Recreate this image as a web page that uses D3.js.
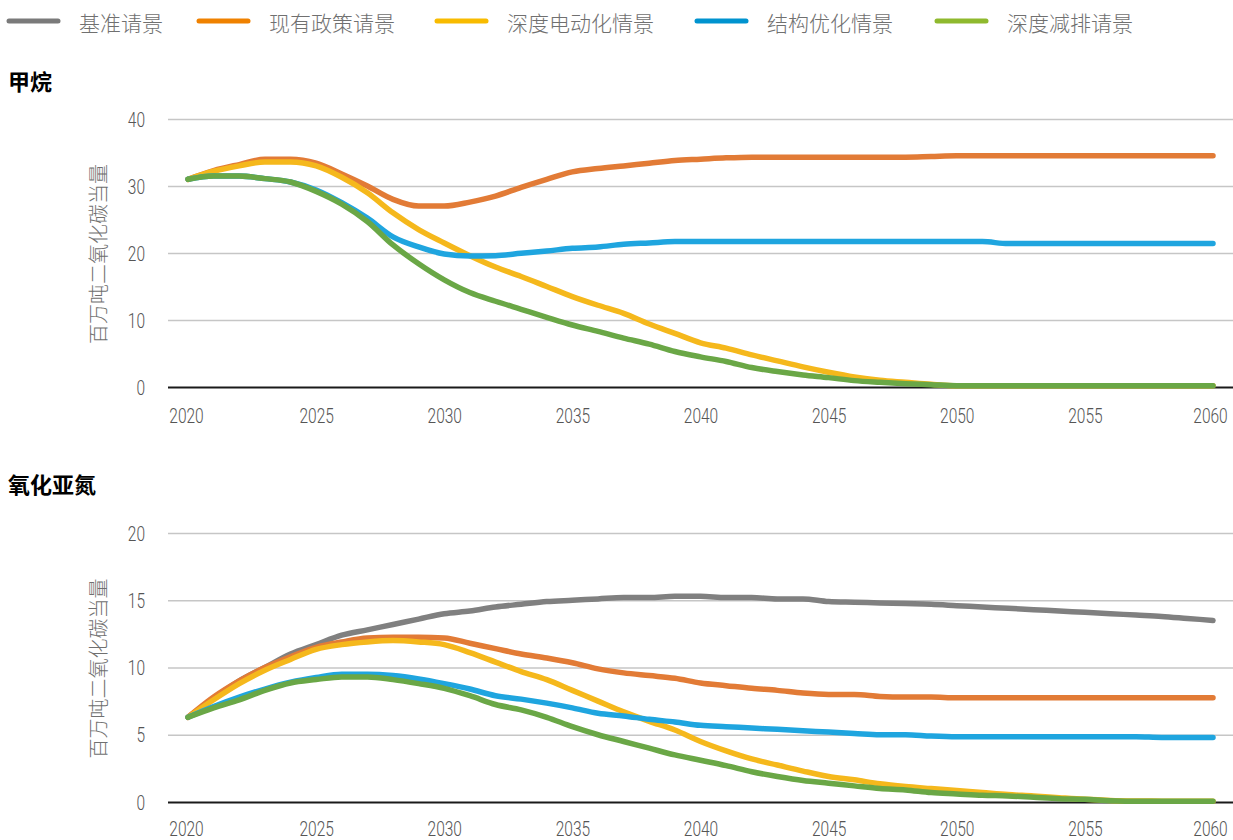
<!DOCTYPE html>
<html>
<head>
<meta charset="utf-8">
<script src="https://cdn.jsdelivr.net/npm/d3@7/dist/d3.min.js"></script>
<style>
html,body{margin:0;padding:0;background:#fff;}
svg{display:block;}
</style>
</head>
<body>
<svg id="chart" width="1233" height="840"></svg>
<script>
const years = d3.range(2020, 2061);
const legendLabels = ["基准请景", "现有政策请景", "深度电动化情景", "结构优化情景", "深度减排请景"];
const panelTitles = ["甲烷", "氧化亚氮"];
const yAxisTitle = "百万吨二氧化碳当量";
const xTickValues = [2020, 2025, 2030, 2035, 2040, 2045, 2050, 2055, 2060];
const ch4Ticks = [0, 10, 20, 30, 40];
const n2oTicks = [0, 5, 10, 15, 20];

// 甲烷 (methane)
const ch4Policy = [31,32.3,33.2,34,34,33.4,31.8,30,28,27,27,27.6,28.5,29.8,31,32.1,32.6,33,33.4,33.8,34,34.2,34.3,34.3,34.3,34.3,34.3,34.3,34.3,34.4,34.5,34.5,34.5,34.5,34.5,34.5,34.5,34.5,34.5,34.5,34.5];
const ch4Elec = [31,32.2,33,33.6,33.6,33,31.3,29,26,23.5,21.5,19.6,17.9,16.5,15,13.5,12.2,11,9.4,8,6.6,5.8,4.8,3.9,3,2.2,1.5,1,0.7,0.4,0.2,0.2,0.2,0.2,0.2,0.2,0.2,0.2,0.2,0.2,0.2];
const ch4Struct = [31,31.5,31.5,31.1,30.6,29.4,27.5,25.2,22.4,20.9,19.85,19.55,19.6,19.95,20.3,20.7,20.9,21.3,21.5,21.7,21.7,21.7,21.7,21.7,21.7,21.7,21.7,21.7,21.7,21.7,21.7,21.7,21.4,21.4,21.4,21.4,21.4,21.4,21.4,21.4,21.4];
const ch4Deep = [31,31.5,31.5,31.1,30.6,29.2,27.3,24.7,21.2,18.4,16,14.1,12.8,11.6,10.4,9.25,8.3,7.3,6.4,5.3,4.5,3.8,2.9,2.3,1.8,1.4,0.95,0.7,0.5,0.35,0.2,0.2,0.2,0.2,0.2,0.2,0.2,0.2,0.2,0.2,0.2];

// 氧化亚氮 (nitrous oxide)
const n2oBase = [6.3,7.7,9,10,11,11.7,12.4,12.8,13.2,13.6,14,14.2,14.5,14.7,14.9,15,15.1,15.2,15.2,15.3,15.3,15.2,15.2,15.1,15.1,14.9,14.85,14.8,14.75,14.7,14.6,14.5,14.4,14.3,14.2,14.1,14,13.9,13.8,13.65,13.5];
const n2oPolicy = [6.3,7.8,9,10,10.8,11.5,11.9,12.2,12.25,12.25,12.2,11.8,11.4,11,10.7,10.35,9.9,9.6,9.4,9.2,8.85,8.65,8.45,8.3,8.1,8,8,7.85,7.8,7.8,7.75,7.75,7.75,7.75,7.75,7.75,7.75,7.75,7.75,7.75,7.75];
const n2oElec = [6.3,7.6,8.8,9.8,10.6,11.35,11.7,11.9,12,11.9,11.7,11.1,10.4,9.7,9.1,8.3,7.5,6.7,6,5.35,4.5,3.8,3.2,2.75,2.3,1.9,1.65,1.35,1.15,1,0.85,0.7,0.55,0.45,0.32,0.2,0.12,0.08,0.06,0.05,0.05];
const n2oStruct = [6.3,7.1,7.8,8.4,8.9,9.25,9.5,9.5,9.4,9.15,8.8,8.4,7.9,7.65,7.35,7,6.6,6.4,6.15,5.95,5.7,5.6,5.5,5.4,5.3,5.2,5.1,5,5,4.9,4.85,4.85,4.85,4.85,4.85,4.85,4.85,4.85,4.8,4.8,4.8];
const n2oDeep = [6.3,7,7.6,8.3,8.85,9.1,9.3,9.3,9.1,8.8,8.45,7.9,7.25,6.85,6.3,5.6,5,4.5,4,3.5,3.1,2.7,2.25,1.9,1.6,1.4,1.2,1,0.9,0.7,0.6,0.5,0.45,0.35,0.25,0.2,0.1,0.05,0.05,0.05,0.05];

const lineColors = ["#808080", "#e27b36", "#f5b81c", "#1fa5df", "#6aa746"];
const legendColors = ["#7a7a7a", "#ef8100", "#f8bb00", "#0093cf", "#8fb92e"];

const svg = d3.select("#chart");
const cjk = "'Noto Sans CJK SC', 'Noto Sans', sans-serif";
const numFont = "'Roboto', 'Liberation Sans', sans-serif";

// Legend
const legendX = [7, 197, 435, 695, 935];
const lg = svg.append("g");
legendLabels.forEach((lab, i) => {
  lg.append("line").attr("x1", legendX[i] + 2).attr("x2", legendX[i] + 51)
    .attr("y1", 21).attr("y2", 21)
    .attr("stroke", legendColors[i]).attr("stroke-width", 5).attr("stroke-linecap", "round");
  lg.append("text").attr("x", legendX[i] + 72).attr("y", 22)
    .attr("dominant-baseline", "central")
    .attr("font-family", cjk).attr("font-size", 21).attr("font-weight", 300)
    .attr("fill", "#707070").text(lab);
});

const x = d3.scaleLinear().domain([2020, 2060]).range([188, 1213]);

function narrow(sel) {
  sel.attr("font-family", numFont).attr("font-size", 20).attr("font-weight", 300)
    .attr("fill", "#555")
    .attr("lengthAdjust", "spacingAndGlyphs")
    .attr("textLength", function() { return this.textContent.length * 8.6; });
}

function panel(title, titleY, yDomain, yRange, ticks, seriesList, colorIdx, xLabelY) {
  const y = d3.scaleLinear().domain(yDomain).range(yRange);
  const g = svg.append("g");
  g.append("text").attr("x", 8).attr("y", titleY).attr("dominant-baseline", "central")
    .attr("font-family", cjk).attr("font-size", 22).attr("font-weight", 700)
    .attr("fill", "#000").text(title);

  // gridlines + y tick labels
  const yAxis = d3.axisLeft(y).tickValues(ticks).tickSize(-(1233 - 168)).tickPadding(23).tickFormat(d3.format("d"));
  const ga = g.append("g").attr("transform", "translate(168,0)").call(yAxis);
  ga.select(".domain").remove();
  ga.selectAll(".tick line").attr("stroke", d => d === 0 ? "#1a1a1a" : "#c6c6c6")
    .attr("stroke-width", d => d === 0 ? 2 : 1.5);
  ga.selectAll(".tick text").attr("dy", "0.35em").call(narrow);

  // x axis labels
  const xAxis = d3.axisBottom(x).tickValues(xTickValues).tickSize(0).tickFormat(d3.format("d"));
  const gx = g.append("g").attr("transform", `translate(0,${xLabelY})`).call(xAxis);
  gx.select(".domain").remove();
  gx.selectAll(".tick text").attr("dy", "0.35em").attr("y", 0).call(narrow);
  gx.selectAll(".tick text").attr("dx", d => d === 2020 ? -2 : (d === 2060 ? -3 : 0));

  // y title
  const cy = (yRange[0] + yRange[1]) / 2 + 1;
  g.append("text").attr("transform", `translate(97,${cy}) rotate(-90)`)
    .attr("text-anchor", "middle").attr("dominant-baseline", "central")
    .attr("font-family", cjk).attr("font-size", 20).attr("font-weight", 300)
    .attr("fill", "#707070").text(yAxisTitle);

  const line = d3.line().x((d, i) => x(years[i])).y(d => y(d)).curve(d3.curveMonotoneX);
  seriesList.forEach((s, k) => {
    g.append("path").datum(s).attr("d", line).attr("fill", "none")
      .attr("stroke", lineColors[colorIdx[k]]).attr("stroke-width", 5.5)
      .attr("stroke-linecap", "round").attr("stroke-linejoin", "round");
  });
}

panel(panelTitles[0], 80, [0, 40], [387, 119], ch4Ticks,
  [ch4Policy, ch4Elec, ch4Struct, ch4Deep], [1, 2, 3, 4], 416);
panel(panelTitles[1], 483, [0, 20], [802, 533], n2oTicks,
  [n2oBase, n2oPolicy, n2oElec, n2oStruct, n2oDeep], [0, 1, 2, 3, 4], 829);
</script>
</body>
</html>
